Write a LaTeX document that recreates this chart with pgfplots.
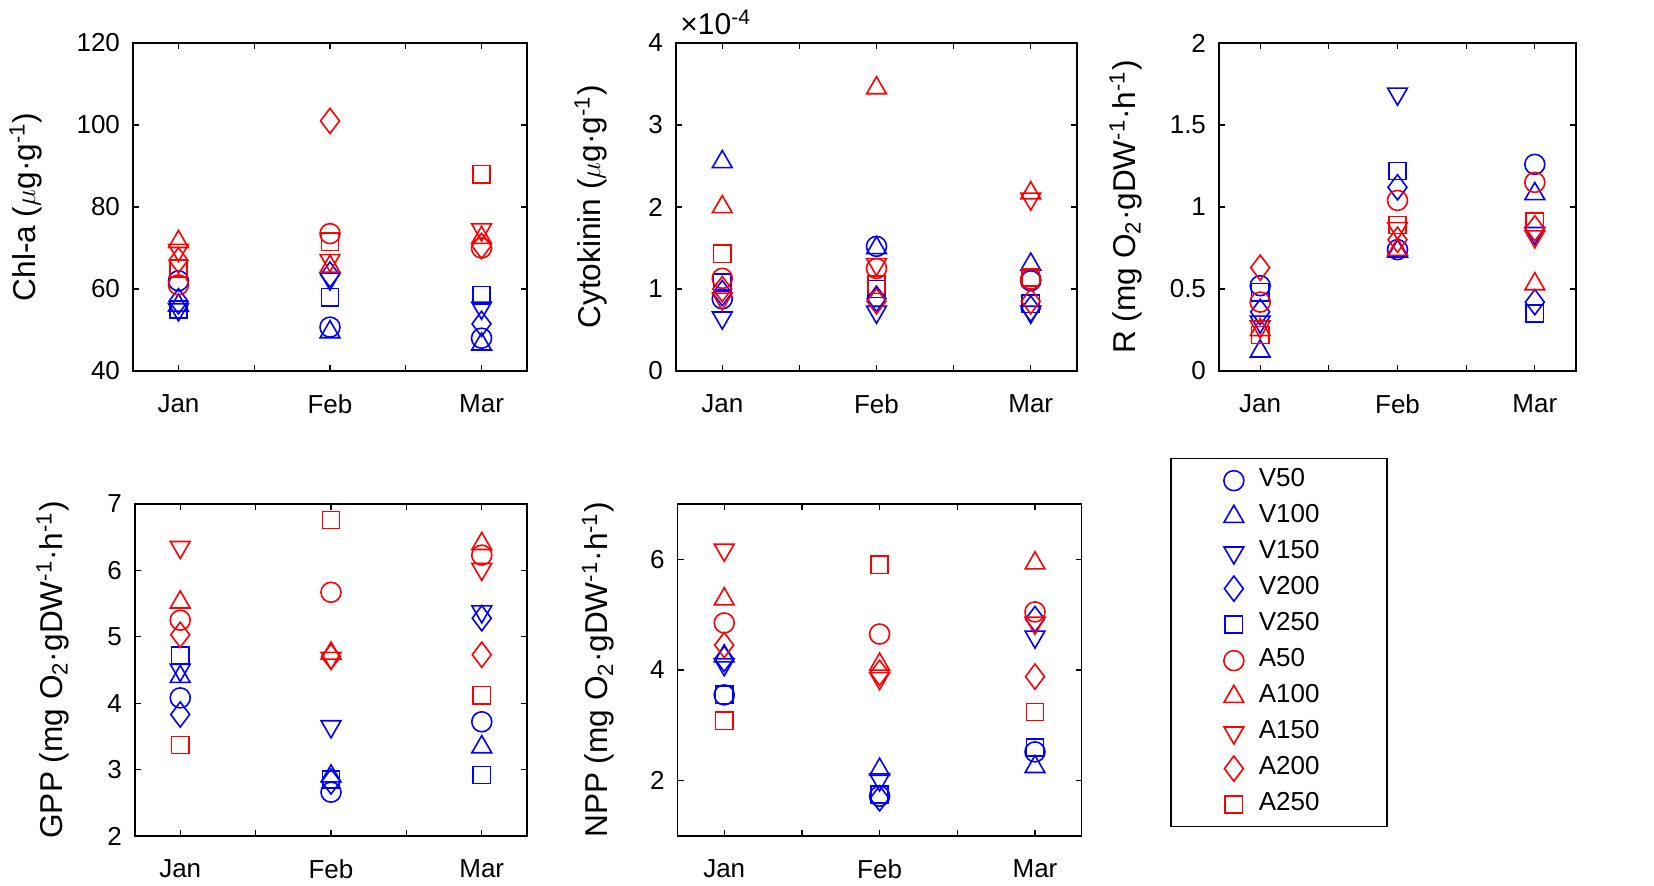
\documentclass[border=0pt]{standalone}
\usepackage{fontspec}
\setmainfont{Liberation Sans}
\usepackage{pgfplots}
\pgfplotsset{compat=1.18}
\newcommand{\tickfont}{\fontsize{13}{15.5}\selectfont}
\newcommand{\labfont}{\fontsize{15.8}{18}\selectfont}
\definecolor{mblue}{RGB}{0,0,255}
\definecolor{mred}{RGB}{255,0,0}
\pgfplotsset{
  panel/.style={scale only axis, anchor=south west,
    xmin=0.7, xmax=3.3, xtick={1,1.5,2,2.5,3}, xticklabels={Jan,,Feb,,Mar},
    axis line style={line width=0.8pt}, major tick length=3pt,
    tick style={black, line width=0.6pt},
    tick label style={font=\tickfont},
    yticklabel style={xshift=-3pt}, xticklabel style={yshift=-8.5pt},
    /pgf/number format/assume math mode=true, scaled y ticks=false,
    legend image code/.code={\path[draw=none,fill=none] (0pt,-6pt) rectangle (42pt,6pt); \draw[##1] plot coordinates {(31.5pt,0pt)};},
  },
  ylab/.style={every axis y label/.style={at={(axis description cs:-#1,0.5)}, rotate=90, anchor=base, font=\labfont}},
  V50/.style={only marks, mblue, mark=o, mark size=5pt, line width=0.8pt},
  V100/.style={only marks, mblue, mark=triangle, mark size=5.7pt, line width=0.8pt},
  V150/.style={only marks, mblue, mark=triangle, mark options={rotate=180}, mark size=5.7pt, line width=0.8pt},
  V200/.style={only marks, mblue, mark=diamond, mark size=6.3pt, line width=0.8pt},
  V250/.style={only marks, mblue, mark=square, mark size=4.3pt, line width=0.8pt},
  A50/.style={only marks, mred, mark=o, mark size=5pt, line width=0.8pt},
  A100/.style={only marks, mred, mark=triangle, mark size=5.7pt, line width=0.8pt},
  A150/.style={only marks, mred, mark=triangle, mark options={rotate=180}, mark size=5.7pt, line width=0.8pt},
  A200/.style={only marks, mred, mark=diamond, mark size=6.3pt, line width=0.8pt},
  A250/.style={only marks, mred, mark=square, mark size=4.3pt, line width=0.8pt},
}
\begin{document}
\begin{tikzpicture}
\useasboundingbox (0,0) rectangle (827pt,443pt);
% Chl-a
\begin{axis}[panel, at={(66.5pt,257.5pt)}, width=197pt, height=164pt,
  ymin=40, ymax=120, ytick={40,60,80,100,120}, ylab=0.2487,
  ylabel={Chl-a ($\mu$g·g\textsuperscript{-1})}]
\addplot[V50]  coordinates {(1,62) (2,50.7) (3,48)};
\addplot[V100] coordinates {(1,56) (2,49.5) (3,46.5)};
\addplot[V150] coordinates {(1,55) (2,62.5) (3,55.4)};
\addplot[V200] coordinates {(1,57) (2,63.5) (3,51.5)};
\addplot[V250] coordinates {(1,55) (2,58) (3,58.5)};
\addplot[A50]  coordinates {(1,61) (2,73.5) (3,70)};
\addplot[A100] coordinates {(1,71.5) (2,65.5) (3,72.5)};
\addplot[A150] coordinates {(1,69.5) (2,67) (3,74.5)};
\addplot[A200] coordinates {(1,67) (2,101) (3,70.5)};
\addplot[A250] coordinates {(1,65) (2,71.5) (3,88)};
\end{axis}
% Cytokinin
\begin{axis}[panel, at={(338pt,257.5pt)}, width=200.5pt, height=164pt,
  ymin=0, ymax=4, ytick={0,1,2,3,4}, ylab=0.1895,
  ylabel={Cytokinin ($\mu$g·g\textsuperscript{-1})},
  extra description/.code={\node[anchor=base west, font=\fontsize{15}{17}\selectfont, inner sep=0pt] at ([xshift=2pt,yshift=4pt]rel axis cs:0,1) {×10\textsuperscript{-4}};}]
\addplot[V50]  coordinates {(1,0.88) (2,1.52) (3,1.1)};
\addplot[V100] coordinates {(1,2.55) (2,1.5) (3,1.3)};
\addplot[V150] coordinates {(1,0.65) (2,0.72) (3,0.72)};
\addplot[V200] coordinates {(1,0.95) (2,0.88) (3,0.76)};
\addplot[V250] coordinates {(1,1.08) (2,1.0) (3,0.82)};
\addplot[A50]  coordinates {(1,1.13) (2,1.25) (3,1.12)};
\addplot[A100] coordinates {(1,2.0) (2,3.45) (3,2.17)};
\addplot[A150] coordinates {(1,0.88) (2,1.3) (3,2.1)};
\addplot[A200] coordinates {(1,1.0) (2,0.85) (3,0.85)};
\addplot[A250] coordinates {(1,1.43) (2,1.05) (3,1.14)};
\end{axis}
% R
\begin{axis}[panel, at={(609.5pt,257.5pt)}, width=178.5pt, height=164pt,
  ymin=0, ymax=2, ytick={0,0.5,1,1.5,2}, ylab=0.2353,
  ylabel={R (mg O\textsubscript{2}·gDW\textsuperscript{-1}·h\textsuperscript{-1})}]
\addplot[V50]  coordinates {(1,0.52) (2,0.74) (3,1.26)};
\addplot[V100] coordinates {(1,0.12) (2,0.73) (3,1.08)};
\addplot[V150] coordinates {(1,0.3) (2,1.69) (3,0.84)};
\addplot[V200] coordinates {(1,0.36) (2,1.12) (3,0.42)};
\addplot[V250] coordinates {(1,0.48) (2,1.22) (3,0.35)};
\addplot[A50]  coordinates {(1,0.42) (2,1.04) (3,1.15)};
\addplot[A100] coordinates {(1,0.25) (2,0.74) (3,0.53)};
\addplot[A150] coordinates {(1,0.27) (2,0.87) (3,0.82)};
\addplot[A200] coordinates {(1,0.63) (2,0.8) (3,0.87)};
\addplot[A250] coordinates {(1,0.22) (2,0.89) (3,0.91)};
\end{axis}
% GPP
\begin{axis}[panel, at={(67.5pt,25pt)}, width=196pt, height=166pt,
  ymin=2, ymax=7, ytick={2,3,4,5,6,7}, ylab=0.1862,
  ylabel={GPP (mg O\textsubscript{2}·gDW\textsuperscript{-1}·h\textsuperscript{-1})}]
\addplot[V50]  coordinates {(1,4.08) (2,2.66) (3,3.72)};
\addplot[V100] coordinates {(1,4.4) (2,2.9) (3,3.34)};
\addplot[V150] coordinates {(1,4.5) (2,3.65) (3,5.38)};
\addplot[V200] coordinates {(1,3.83) (2,2.82) (3,5.28)};
\addplot[V250] coordinates {(1,4.72) (2,2.85) (3,2.92)};
\addplot[A50]  coordinates {(1,5.25) (2,5.67) (3,6.23)};
\addplot[A100] coordinates {(1,5.52) (2,4.75) (3,6.4)};
\addplot[A150] coordinates {(1,6.35) (2,4.68) (3,6.02)};
\addplot[A200] coordinates {(1,5.03) (2,4.7) (3,4.73)};
\addplot[A250] coordinates {(1,3.37) (2,6.76) (3,4.12)};
\end{axis}
% NPP
\begin{axis}[panel, at={(338.8pt,25pt)}, width=202pt, height=166pt,
  ymin=1, ymax=7, ytick={2,4,6}, ylab=0.1733,
  ylabel={NPP (mg O\textsubscript{2}·gDW\textsuperscript{-1}·h\textsuperscript{-1})},
  legend cell align=left,
  legend style={at={(1.219,1.139)}, anchor=north west, draw=black, line width=0.8pt,
    font=\tickfont, inner xsep=0pt, inner ysep=2pt, row sep=0pt,
    nodes={text width=62pt, text height=9pt, text depth=3pt, inner ysep=3pt}}]
\addplot[V50]  coordinates {(1,3.55) (2,1.72) (3,2.52)};
\addplot[V100] coordinates {(1,4.25) (2,2.2) (3,2.25)};
\addplot[V150] coordinates {(1,4.1) (2,2.02) (3,4.6)};
\addplot[V200] coordinates {(1,4.2) (2,1.68) (3,4.92)};
\addplot[V250] coordinates {(1,3.55) (2,1.75) (3,2.6)};
\addplot[A50]  coordinates {(1,4.85) (2,4.65) (3,5.05)};
\addplot[A100] coordinates {(1,5.28) (2,4.1) (3,5.93)};
\addplot[A150] coordinates {(1,6.17) (2,3.85) (3,4.85)};
\addplot[A200] coordinates {(1,4.45) (2,3.95) (3,3.88)};
\addplot[A250] coordinates {(1,3.08) (2,5.9) (3,3.24)};
\legend{V50,V100,V150,V200,V250,A50,A100,A150,A200,A250}
\end{axis}
\end{tikzpicture}
\end{document}
